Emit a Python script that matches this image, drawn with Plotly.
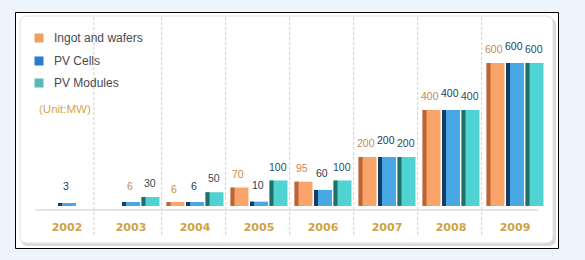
import plotly.graph_objects as go

# ---------------- data ----------------
years = ["2002", "2003", "2004", "2005", "2006", "2007", "2008", "2009"]
ingot_wafers = [None, None, 6, 70, 95, 200, 400, 600]
pv_cells = [3, 6, 6, 10, 60, 200, 400, 600]
pv_modules = [None, 30, 50, 100, 100, 200, 400, 600]
series_names = ["Ingot and wafers", "PV Cells", "PV Modules"]
unit_text = "(Unit:MW)"

# ---------------- geometry / style ----------------
W, H = 585, 260
L, R, T, B = 35, 38, 10, 50
PW, PH = W - L - R, H - T - B
COL = PW / len(years)          # px per category
PXU = 0.235                     # px per MW
Y0_PX = 204                     # px where value 0 sits
ymin = -(T + PH - Y0_PX) / PXU
ymax = (Y0_PX - T) / PXU
FOOT = 2 / PXU                  # small 3D foot below each bar

def px_x(p):
    return (p - L) / PW

def px_y(p):
    return (T + PH - p) / PH

styles = [
    dict(face="#f9a46a", edge="#b8673a", legend="#f0a062", label="#c48a52",
         off=-28.5, xs=-21, ys=6),
    dict(face="#48a8e6", edge="#123d66", legend="#2b7dcc", label="#1d3a55",
         off=-9.0, xs=-1, ys=9),
    dict(face="#4fd3d2", edge="#1f6f6b", legend="#5cb9b9", label="#2b4a5c",
         off=10.5, xs=19, ys=6),
]
BAR_W = 18.0
EDGE_W = 4.0
label_override = {(1, 1): "#c48a52"}   # 2003 PV cells label drawn in orange

fig = go.Figure()
all_series = [ingot_wafers, pv_cells, pv_modules]

for si, (vals, st, name) in enumerate(zip(all_series, styles, series_names)):
    foot = [FOOT if v is not None else None for v in vals]
    # face
    fig.add_bar(x=years, y=vals, base=0, width=BAR_W / COL, offset=st["off"] / COL,
                marker=dict(color=st["face"], line=dict(width=0)), name=name,
                showlegend=False, hovertemplate=name + " %{x}: %{y} MW<extra></extra>")
    fig.add_bar(x=years, y=foot, base=-FOOT, width=BAR_W / COL, offset=st["off"] / COL,
                marker=dict(color=st["face"], line=dict(width=0)),
                showlegend=False, hoverinfo="skip")
    # dark left edge (3D side)
    fig.add_bar(x=years, y=vals, base=0, width=EDGE_W / COL, offset=st["off"] / COL,
                marker=dict(color=st["edge"], line=dict(width=0)),
                showlegend=False, hoverinfo="skip")
    fig.add_bar(x=years, y=foot, base=-FOOT, width=EDGE_W / COL, offset=st["off"] / COL,
                marker=dict(color=st["edge"], line=dict(width=0)),
                showlegend=False, hoverinfo="skip")

annotations = []
for si, (vals, st) in enumerate(zip(all_series, styles)):
    for xi, v in enumerate(vals):
        if v is None:
            continue
        annotations.append(dict(
            x=xi, y=v, xref="x", yref="y", text=str(v), showarrow=False,
            xanchor="center", yanchor="bottom", xshift=st["xs"], yshift=st["ys"],
            font=dict(family="Liberation Sans", size=10.5,
                      color=label_override.get((si, xi), st["label"]))))

# legend (custom)
shapes = []
leg_rows = [38, 61, 83]
for name, st, ry in zip(series_names, styles, leg_rows):
    shapes.append(dict(type="rect", xref="paper", yref="paper",
                       x0=px_x(34.5), x1=px_x(43.5), y0=px_y(ry + 4.5), y1=px_y(ry - 4.5),
                       fillcolor=st["legend"], line=dict(width=0), layer="above"))
    annotations.append(dict(x=px_x(52), y=px_y(ry), xref="paper", yref="paper",
                            text=name, showarrow=False, xanchor="left", yanchor="middle",
                            font=dict(family="Liberation Sans", size=12, color="#4a4a4a")))
annotations.append(dict(x=px_x(37), y=px_y(109), xref="paper", yref="paper",
                        text=unit_text, showarrow=False, xanchor="left", yanchor="middle",
                        font=dict(family="Liberation Sans", size=11.5, color="#d2a84e")))

# frame and panel
bg_shapes = [
    dict(type="rect", xref="paper", yref="paper", x0=px_x(15.5), x1=px_x(558.5),
         y0=px_y(248.5), y1=px_y(12.5), fillcolor="white",
         line=dict(color="black", width=1), layer="below"),
]

def rounded(x0, y0, x1, y1, r):
    rx, ry = r / PW, r / PH
    X0, X1, Y0, Y1 = px_x(x0), px_x(x1), px_y(y1), px_y(y0)  # Y0 bottom, Y1 top
    return (f"M {X0+rx},{Y1} L {X1-rx},{Y1} Q {X1},{Y1} {X1},{Y1-ry} "
            f"L {X1},{Y0+ry} Q {X1},{Y0} {X1-rx},{Y0} L {X0+rx},{Y0} "
            f"Q {X0},{Y0} {X0},{Y0+ry} L {X0},{Y1-ry} Q {X0},{Y1} {X0+rx},{Y1} Z")

bg_shapes.append(dict(type="path", xref="paper", yref="paper",
                      path=rounded(21, 18, 556, 246, 7), fillcolor="#d9d9d9",
                      line=dict(width=0), layer="below"))
bg_shapes.append(dict(type="path", xref="paper", yref="paper",
                      path=rounded(20, 16, 553, 243, 7), fillcolor="white",
                      line=dict(color="#e2e2e2", width=1), layer="below"))

# dashed separators
sep_pos = [0.42] + [i + 0.48 for i in range(1, len(years) - 1)]
for xs in sep_pos:
    bg_shapes.append(dict(type="line", xref="x", yref="paper", x0=xs, x1=xs,
                          y0=px_y(235), y1=px_y(16),
                          line=dict(color="#cfcfcf", width=1, dash="3px,2px"), layer="below"))
# baseline
bg_shapes.append(dict(type="line", xref="paper", yref="paper", x0=0, x1=px_x(538),
                      y0=0, y1=0, line=dict(color="#c9c9c9", width=1), layer="below"))

fig.update_layout(
    width=W, height=H, margin=dict(l=L, r=R, t=T, b=B),
    paper_bgcolor="#eef4fb", plot_bgcolor="rgba(0,0,0,0)",
    barmode="overlay", showlegend=False,
    annotations=annotations, shapes=bg_shapes + shapes,
    xaxis=dict(type="category", range=[-0.5, len(years) - 0.5], showgrid=False,
               zeroline=False, showline=False, ticks="", ticklabelstandoff=9,
               tickfont=dict(family="DejaVu Sans", size=11, weight="bold", color="#cfa446")),
    yaxis=dict(range=[ymin, ymax], showgrid=False, zeroline=False, showline=False,
               showticklabels=False, ticks=""),
)

fig.write_html("out.html")
